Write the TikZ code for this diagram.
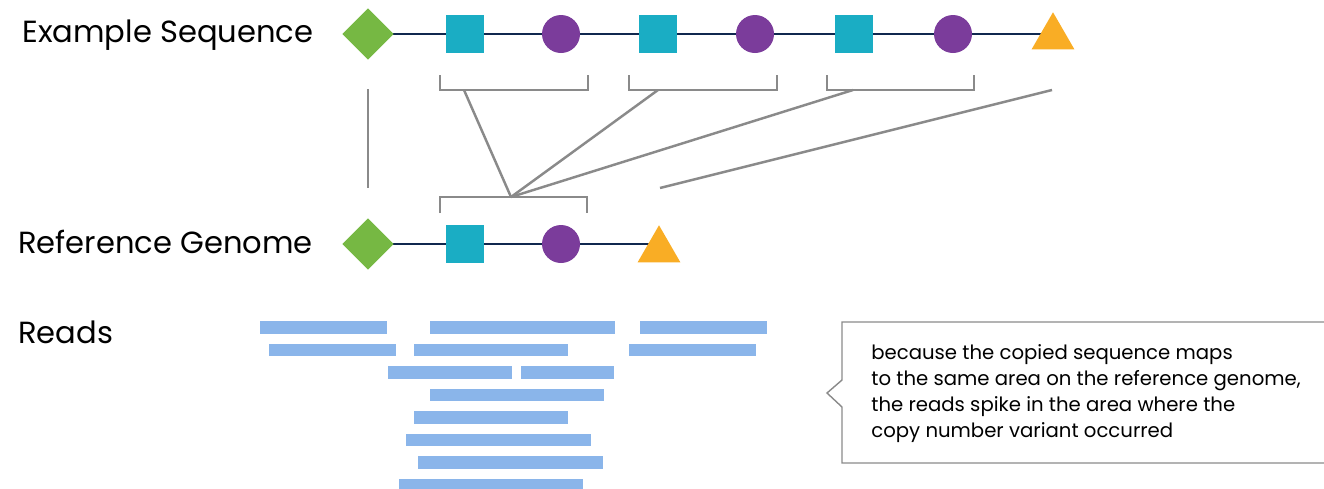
\documentclass[tikz,border=0pt]{standalone}
\usepackage{fontspec}
\setmainfont{Poppins}
\usetikzlibrary{shapes.geometric,backgrounds,positioning}

\definecolor{leafgreen}{HTML}{76B843}
\definecolor{tealbox}{HTML}{1AADC4}
\definecolor{plum}{HTML}{7B3C9B}
\definecolor{amber}{HTML}{F9AD25}
\definecolor{navy}{HTML}{10284F}
\definecolor{readblue}{HTML}{8AB5EA}
\definecolor{linkgray}{HTML}{8A8A8A}

\tikzset{
  gem/.style={diamond,fill=leafgreen,inner sep=0pt,minimum size=1.03cm},
  blk/.style={rectangle,fill=tealbox,inner sep=0pt,minimum size=0.76cm},
  purpledot/.style={circle,fill=plum,inner sep=0pt,minimum size=0.76cm},
  tri/.style={regular polygon,regular polygon sides=3,fill=amber,inner sep=0pt,minimum size=0.99cm},
  backbone/.style={draw=navy,line width=1.2pt},
  link/.style={draw=linkgray,line width=1.4pt},
  readbar/.style={fill=readblue},
  lab/.style={anchor=base west,inner sep=0pt,font=\fontsize{17.4}{21}\selectfont},
}

\begin{document}
\begin{tikzpicture}[x=0.02cm,y=-0.02cm]
  \useasboundingbox (0,0) rectangle (1324,488);

  % row labels
  \node[lab] (exlab) at (22,42) {Example Sequence};
  \node[lab] (reflab) at (18,253) {Reference Genome};
  \node[lab] (readlab) at (18,343) {Reads};

  % example sequence
  \node[gem] (d1) at (368,34) {};
  \foreach \i/\x in {1/465,2/658,3/854}
    \node[blk] (s\i) at (\x,34) {};
  \foreach \i/\x in {1/561,2/755,3/953}
    \node[purpledot] (c\i) at (\x,34) {};
  \node[tri] (t1) at (1053,37) {};

  % reference genome
  \node[gem] (d2) at (368,244) {};
  \node[blk] (s4) at (465,244) {};
  \node[purpledot] (c4) at (561,244) {};
  \node[tri] (t2) at (659,250) {};

  \begin{scope}[on background layer]
    \draw[backbone] (d1.center) -- (t1.center |- d1.center);
    \draw[backbone] (d2.center) -- (t2.center |- d2.center);
  \end{scope}

  % brackets and mapping lines
  \coordinate (v1) at (368,89);
  \coordinate (v2) at (368,188);
  \draw[link] (v1) -- (v2);
  \foreach \l/\r/\m [count=\i] in {440/588/464,629/777/658,827/974/853}{
    \draw[link] (\l,75) -- (\l,90) -- (\r,90) -- (\r,75);
    \coordinate (stem\i) at (\m,90);
  }
  \coordinate (join) at (511,197);
  \draw[link] (440,213) -- (440,197) -- (587,197) -- (587,213);
  \foreach \i in {1,2,3}
    \draw[link] (stem\i) -- (join);
  \coordinate (tail) at (1052,90);
  \coordinate (tailend) at (660,188);
  \draw[link] (tail) -- (tailend);

  % reads
  \foreach \a/\b/\r in {260/387/0,430/615/0,640/767/0,
                        269/396/1,414/568/1,629/756/1,
                        388/512/2,521/614/2,
                        430/604/3,414/568/4,406/591/5,418/603/6,399/583/7}
    \fill[readbar] (\a,321+22.5*\r) rectangle (\b,333.5+22.5*\r);

  % callout
  \draw[linkgray,line width=0.8pt] (842,380) -- (842,322) -- (1330,322)
    -- (1330,463) -- (842,463) -- (842,407) -- (827,393) -- cycle;
  \node[anchor=base west,inner sep=0pt,align=left,
        font=\fontsize{11.2}{14.74}\selectfont] (note) at (871,437)
    {because the copied sequence maps\\
     to the same area on the reference genome,\\
     the reads spike in the area where the\\
     copy number variant occurred};
\end{tikzpicture}
\end{document}
